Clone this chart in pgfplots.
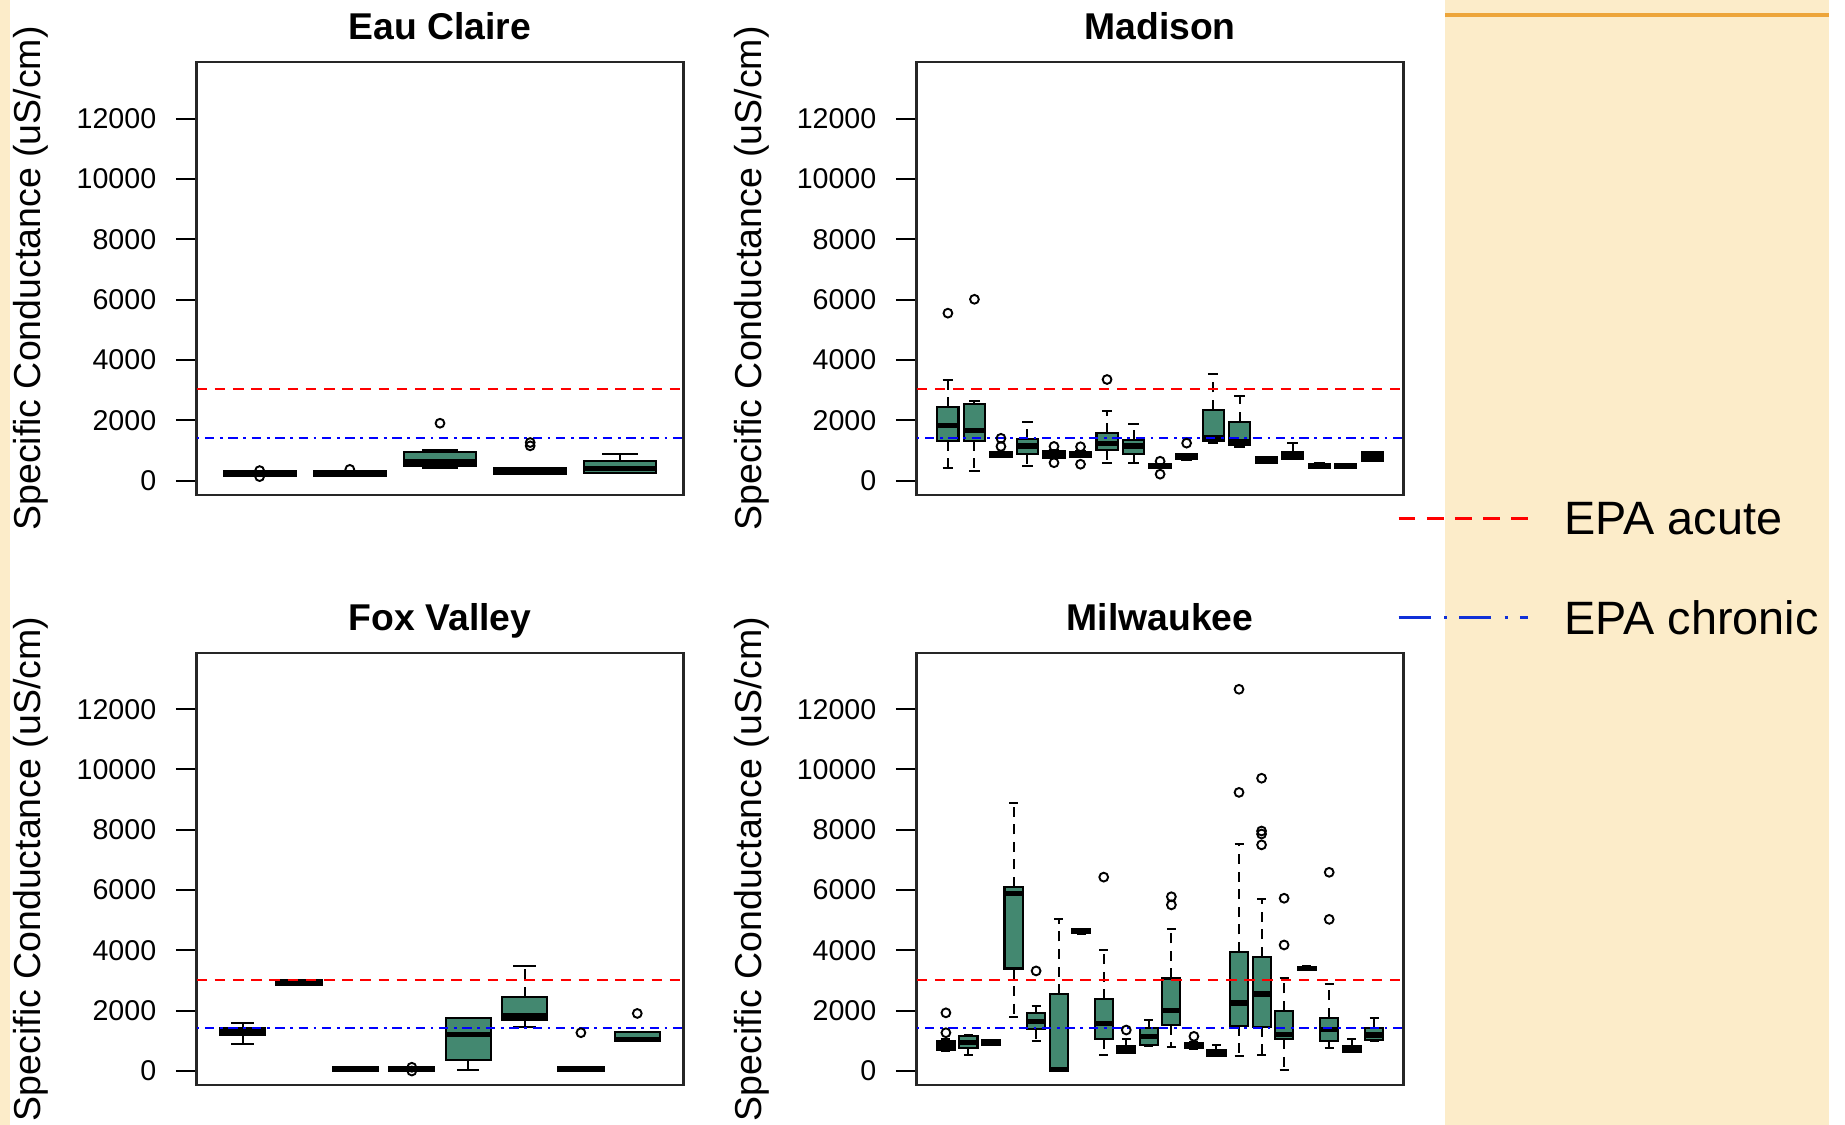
\documentclass[border=0pt]{standalone}
\usepackage{pgfplots}
\pgfplotsset{compat=1.18}
\usepgfplotslibrary{statistics}
\usepackage{fontspec}
\setmainfont{Liberation Sans}
\definecolor{boxgreen}{HTML}{438870}
\definecolor{beige}{HTML}{FCECC9}
\definecolor{orangeline}{HTML}{EDA53A}
\definecolor{framegray}{HTML}{262626}
\definecolor{legblue}{HTML}{1030D8}

\pgfplotsset{
  /pgfplots/boxplot/draw/lower whisker/.code={%
    \draw[/pgfplots/boxplot/every whisker/.try, dash pattern=on 5bp off 3.8bp]
      (boxplot box cs:\pgfplotsboxplotvalue{lower quartile},0.5) -- (boxplot box cs:\pgfplotsboxplotvalue{lower whisker},0.5);
    \draw[/pgfplots/boxplot/every whisker/.try, solid]
      (boxplot box cs:\pgfplotsboxplotvalue{lower whisker},0.25) -- (boxplot box cs:\pgfplotsboxplotvalue{lower whisker},0.75);
  },
  /pgfplots/boxplot/draw/upper whisker/.code={%
    \draw[/pgfplots/boxplot/every whisker/.try, dash pattern=on 5bp off 3.8bp]
      (boxplot box cs:\pgfplotsboxplotvalue{upper quartile},0.5) -- (boxplot box cs:\pgfplotsboxplotvalue{upper whisker},0.5);
    \draw[/pgfplots/boxplot/every whisker/.try, solid]
      (boxplot box cs:\pgfplotsboxplotvalue{upper whisker},0.25) -- (boxplot box cs:\pgfplotsboxplotvalue{upper whisker},0.75);
  },
  panel/.style={
    width=243.5bp, height=216.2bp, scale only axis,
    ymin=-470, ymax=13870,
    xtick=\empty,
    ytick={0,2000,4000,6000,8000,10000,12000},
    yticklabels={0,2000,4000,6000,8000,10000,12000},
    scaled y ticks=false,
    ytick pos=left,
    tick align=outside,
    major tick length=10.35bp,
    tick style={line width=1bp, black},
    axis line style={line width=1.15bp, framegray},
    yticklabel style={font=\fontsize{14.3bp}{16bp}\selectfont, inner sep=0pt, xshift=-9.6bp},
    ylabel={Specific Conductance (uS/cm)},
    ylabel style={at={(axis description cs:-0.3193,0.5)}, anchor=base, font=\fontsize{18.75bp}{20bp}\selectfont},
    title style={at={(axis description cs:0.5,1)}, anchor=base, yshift=5.17bp, font=\bfseries\fontsize{18.65bp}{20bp}\selectfont},
    boxplot/draw direction=y,
    boxplot/box extend=0.8,
    boxplot/every box/.style={fill=boxgreen, draw=black, line width=1.05bp},
    boxplot/every median/.style={line width=2.7bp},
    boxplot/every whisker/.style={line width=1bp},
  },
  bxs/.style={black, solid, forget plot, mark=o, mark size=2.2bp, mark options={line width=0.95bp, solid}},
  acute/.style={red, line width=0.9bp, dash pattern=on 5.3bp off 3.8bp},
  chronic/.style={blue, line width=0.9bp, dash pattern=on 1.4bp off 2.8bp on 4.7bp off 2.8bp},
}
\newcommand{\bx}[7]{\addplot[bxs, boxplot prepared={draw position=#1, lower whisker=#2, lower quartile=#3, median=#4, upper quartile=#5, upper whisker=#6}] coordinates {#7};}

\begin{document}
\begin{tikzpicture}
\useasboundingbox (0,0) rectangle (922.5bp,562.5bp);
\fill[white] (0,0) rectangle (922.5bp,562.5bp);
\fill[beige] (0,0) rectangle (5bp,562.5bp);
\fill[beige] (722.5bp,0) rectangle (914.5bp,562.5bp);
\fill[orangeline] (722.5bp,554bp) rectangle (914.5bp,556bp);

% Eau Claire
\begin{axis}[panel, at={(98.25bp,315.15bp)}, anchor=south west, xmin=0.3, xmax=5.7, title={Eau Claire}]
\bx{1}{150}{150}{230}{310}{310}{(0,330) (0,130)}
\bx{2}{140}{150}{230}{300}{310}{(0,370)}
\bx{3}{420}{480}{620}{950}{1020}{(0,1900)}
\bx{4}{220}{220}{320}{400}{400}{(0,1150) (0,1260)}
\bx{5}{240}{260}{400}{660}{870}{}
\addplot[acute] coordinates {(0.3,3030) (5.7,3030)};
\addplot[chronic] coordinates {(0.3,1420) (5.7,1420)};
\end{axis}

% Madison
\begin{axis}[panel, at={(458.3bp,315.15bp)}, anchor=south west, xmin=-0.18, xmax=18.18, title={Madison},
  legend style={draw=none, fill=none, inner sep=0pt, outer sep=0pt,
    at={(axis description cs:0.9864,-0.0169)}, anchor=north west,
    row sep=33.1bp, column sep=17.7bp,
    nodes={inner sep=0pt, text depth=0pt, font=\fontsize{23.4bp}{26bp}\selectfont}},
  legend cell align=left]
\bx{1}{400}{1320}{1820}{2430}{3350}{(0,5550)}
\bx{2}{330}{1320}{1650}{2530}{2650}{(0,6010)}
\bx{3}{770}{790}{860}{930}{960}{(0,1400) (0,1130)}
\bx{4}{480}{870}{1150}{1380}{1950}{}
\bx{5}{740}{760}{870}{990}{1000}{(0,1130) (0,590)}
\bx{6}{770}{790}{860}{930}{980}{(0,1120) (0,540)}
\bx{7}{590}{1010}{1230}{1570}{2320}{(0,3350)}
\bx{8}{570}{880}{1150}{1340}{1860}{}
\bx{9}{410}{420}{475}{530}{545}{(0,640) (0,210)}
\bx{10}{690}{700}{790}{880}{890}{(0,1240)}
\bx{11}{1240}{1300}{1420}{2340}{3530}{}
\bx{12}{1120}{1170}{1300}{1950}{2800}{}
\bx{13}{570}{590}{680}{770}{790}{}
\bx{14}{710}{720}{830}{930}{1250}{}
\bx{15}{400}{410}{480}{560}{580}{}
\bx{16}{410}{420}{470}{540}{550}{}
\bx{17}{640}{660}{780}{930}{950}{}
\addplot[acute, legend image code/.code={\draw[red, line width=1.6bp, dash pattern=on 8.4bp off 5.7bp] (0bp,0bp) -- (64.5bp,0bp);}] coordinates {(-0.18,3030) (18.18,3030)};
\addlegendentry{EPA acute}
\addplot[chronic, legend image code/.code={\draw[legblue, line width=1.6bp, dash pattern=on 16bp off 6.75bp on 1.7bp off 5.85bp] (0bp,0bp) -- (64.5bp,0bp);}] coordinates {(-0.18,1420) (18.18,1420)};
\addlegendentry{EPA chronic}
\end{axis}

% Fox Valley
\begin{axis}[panel, at={(98.25bp,19.9bp)}, anchor=south west, xmin=0.18, xmax=8.82, title={Fox Valley}]
\bx{1}{900}{1200}{1310}{1410}{1600}{}
\bx{2}{2840}{2850}{2930}{3010}{3020}{}
\bx{3}{0}{0}{50}{120}{130}{}
\bx{4}{0}{0}{50}{120}{130}{(0,125) (0,0)}
\bx{5}{50}{360}{1220}{1770}{1770}{}
\bx{6}{1450}{1690}{1830}{2460}{3490}{}
\bx{7}{0}{0}{50}{120}{130}{(0,1270)}
\bx{8}{980}{990}{1040}{1290}{1300}{(0,1910)}
\addplot[acute] coordinates {(0.18,3030) (8.82,3030)};
\addplot[chronic] coordinates {(0.18,1420) (8.82,1420)};
\end{axis}

% Milwaukee
\begin{axis}[panel, at={(458.3bp,19.9bp)}, anchor=south west, xmin=-0.3, xmax=21.3, title={Milwaukee}]
\bx{1}{680}{700}{830}{980}{1050}{(0,1270) (0,1930)}
\bx{2}{530}{750}{940}{1150}{1200}{}
\bx{3}{860}{870}{950}{1030}{1040}{}
\bx{4}{1780}{3400}{5880}{6100}{8900}{}
\bx{5}{1000}{1380}{1640}{1910}{2160}{(0,3320)}
\bx{6}{0}{0}{50}{2550}{5030}{}
\bx{7}{4560}{4570}{4640}{4700}{4710}{}
\bx{8}{530}{1060}{1580}{2380}{4010}{(0,6430)}
\bx{9}{600}{610}{720}{830}{1050}{(0,1360)}
\bx{10}{830}{870}{1150}{1440}{1690}{}
\bx{11}{810}{1530}{2000}{3070}{4700}{(0,5510) (0,5780)}
\bx{12}{740}{750}{840}{940}{960}{(0,1150)}
\bx{13}{500}{510}{600}{690}{850}{}
\bx{14}{510}{1500}{2250}{3950}{7520}{(0,9240) (0,12660)}
\bx{15}{530}{1470}{2550}{3790}{5720}{(0,7500) (0,7860) (0,7960) (0,9710)}
\bx{16}{30}{1050}{1220}{1990}{3100}{(0,4180) (0,5730)}
\bx{17}{3340}{3350}{3400}{3460}{3470}{}
\bx{18}{750}{1000}{1380}{1770}{2880}{(0,5030) (0,6590)}
\bx{19}{630}{640}{740}{830}{1050}{}
\bx{20}{990}{1030}{1200}{1430}{1750}{}
\addplot[acute] coordinates {(-0.3,3030) (21.3,3030)};
\addplot[chronic] coordinates {(-0.3,1420) (21.3,1420)};
\end{axis}
\end{tikzpicture}
\end{document}
